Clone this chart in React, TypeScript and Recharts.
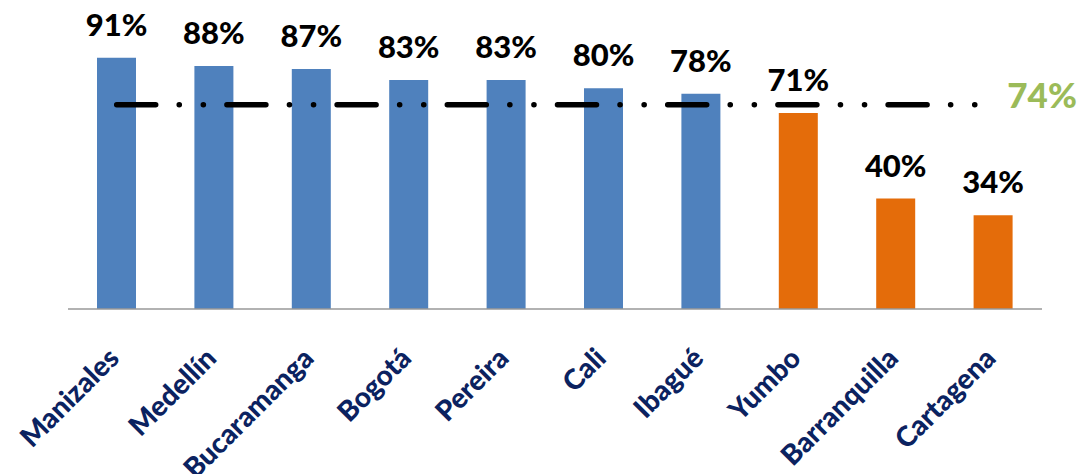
import { Bar, Cell, ComposedChart, LabelList, Line, XAxis, YAxis } from "recharts";

const cities = [
  "Manizales",
  "Medellín",
  "Bucaramanga",
  "Bogotá",
  "Pereira",
  "Cali",
  "Ibagué",
  "Yumbo",
  "Barranquilla",
  "Cartagena",
];
const shares = [91, 88, 87, 83, 83, 80, 78, 71, 40, 34];
const average = 74;

const data = cities.map((city, i) => ({ city, share: shares[i], avg: average }));

const FONT = "Lato, 'Open Sans', sans-serif";

const CityTick = (props: any) => {
  const { x, y, payload } = props;
  const ax = x + 4;
  const ay = y + 43;
  return (
    <text
      x={ax}
      y={ay}
      textAnchor="end"
      transform={`rotate(-45, ${ax}, ${ay})`}
      fill="#0b2260"
      fontFamily={FONT}
      fontWeight={900}
      fontSize={28}
    >
      {payload.value}
    </text>
  );
};

const ValueLabel = (props: any) => {
  const { x, y, width, value } = props;
  return (
    <text
      x={x + width / 2}
      y={y - 22}
      textAnchor="middle"
      fill="#000"
      fontFamily={FONT}
      fontWeight={900}
      fontSize={31}
    >
      {value}%
    </text>
  );
};

const AvgLabel = (props: any) => {
  const { x, y, index, value } = props;
  if (index !== data.length - 1) return null;
  return (
    <text x={x + 14} y={y + 3} fill="#9bbb59" fontFamily={FONT} fontWeight={900} fontSize={35}>
      {value}%
    </text>
  );
};

export default function App() {
  return (
    <div style={{ position: "absolute", left: 0, top: 0, width: 1084, height: 474, background: "#fff" }}>
      <ComposedChart
        width={1084}
        height={474}
        data={data}
        margin={{ top: 33, right: 42, left: 68, bottom: 0 }}
      >
        <XAxis
          dataKey="city"
          interval={0}
          height={165}
          tickLine={false}
          axisLine={{ stroke: "#999", strokeWidth: 1.5 }}
          tick={<CityTick />}
        />
        <YAxis hide domain={[0, 100]} />
        <Bar dataKey="share" barSize={39} isAnimationActive={false}>
          {data.map((d) => (
            <Cell key={d.city} fill={d.share < average ? "#e46c0a" : "#4f81bd"} />
          ))}
          <LabelList dataKey="share" content={<ValueLabel />} />
        </Bar>
        <Line
          dataKey="avg"
          stroke="#000"
          strokeWidth={5.5}
          strokeLinecap="round"
          strokeDasharray="39 23.5 0.1 24 0.1 23.5"
          dot={false}
          activeDot={false}
          isAnimationActive={false}
        >
          <LabelList dataKey="avg" content={<AvgLabel />} />
        </Line>
      </ComposedChart>
    </div>
  );
}
